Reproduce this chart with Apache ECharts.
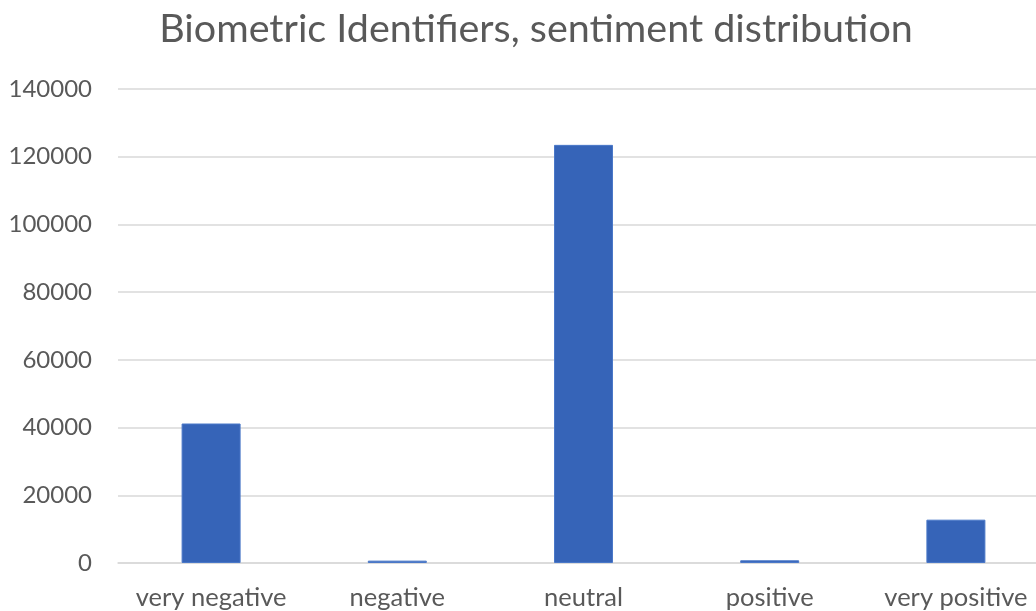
<!DOCTYPE html>
<html>
<head>
<meta charset="utf-8">
<script src="https://cdn.jsdelivr.net/npm/echarts@6/dist/echarts.min.js"></script>
<style>
  html, body { margin: 0; padding: 0; background: #ffffff; }
  #chart { width: 1036px; height: 611px; }
</style>
</head>
<body>
<div id="chart"></div>
<script>
// Sentiment classes and post counts
const categories = ['very negative', 'negative', 'neutral', 'positive', 'very positive'];
const counts = [41200, 700, 123500, 800, 12800];
const yTicks = { min: 0, max: 140000, interval: 20000 };

const chart = echarts.init(document.getElementById('chart'));
const textColor = '#595959';
const fontFamily = 'Lato, "Open Sans", sans-serif';

chart.setOption({
  animation: false,
  backgroundColor: '#ffffff',
  title: {
    text: 'Biometric Identifiers, sentiment distribution',
    left: 531,
    textAlign: 'center',
    top: 4,
    textStyle: { color: textColor, fontSize: 39.5, fontWeight: 'normal', fontFamily: fontFamily }
  },
  // plot area runs a little past the right edge of the canvas
  grid: { left: 118, width: 931, top: 89, bottom: 48, outerBoundsMode: 'none', containLabel: false },
  xAxis: {
    type: 'category',
    data: categories,
    axisLine: { show: true, lineStyle: { color: '#d9d9d9', width: 1.5 } },
    axisTick: { show: false },
    axisLabel: { color: textColor, fontSize: 25.5, fontFamily: fontFamily, margin: 22, interval: 0 }
  },
  yAxis: {
    type: 'value',
    min: yTicks.min,
    max: yTicks.max,
    interval: yTicks.interval,
    axisLine: { show: false },
    axisTick: { show: false },
    splitLine: { lineStyle: { color: '#d9d9d9', width: 1.5 } },
    axisLabel: {
      color: textColor, fontSize: 24, fontFamily: fontFamily, margin: 26,
      formatter: (v) => String(v)
    }
  },
  series: [{
    type: 'bar',
    data: counts,
    barWidth: 59,
    itemStyle: { color: '#3664b8', borderColor: '#4a78c8', borderWidth: 1 }
  }]
});
</script>
</body>
</html>
